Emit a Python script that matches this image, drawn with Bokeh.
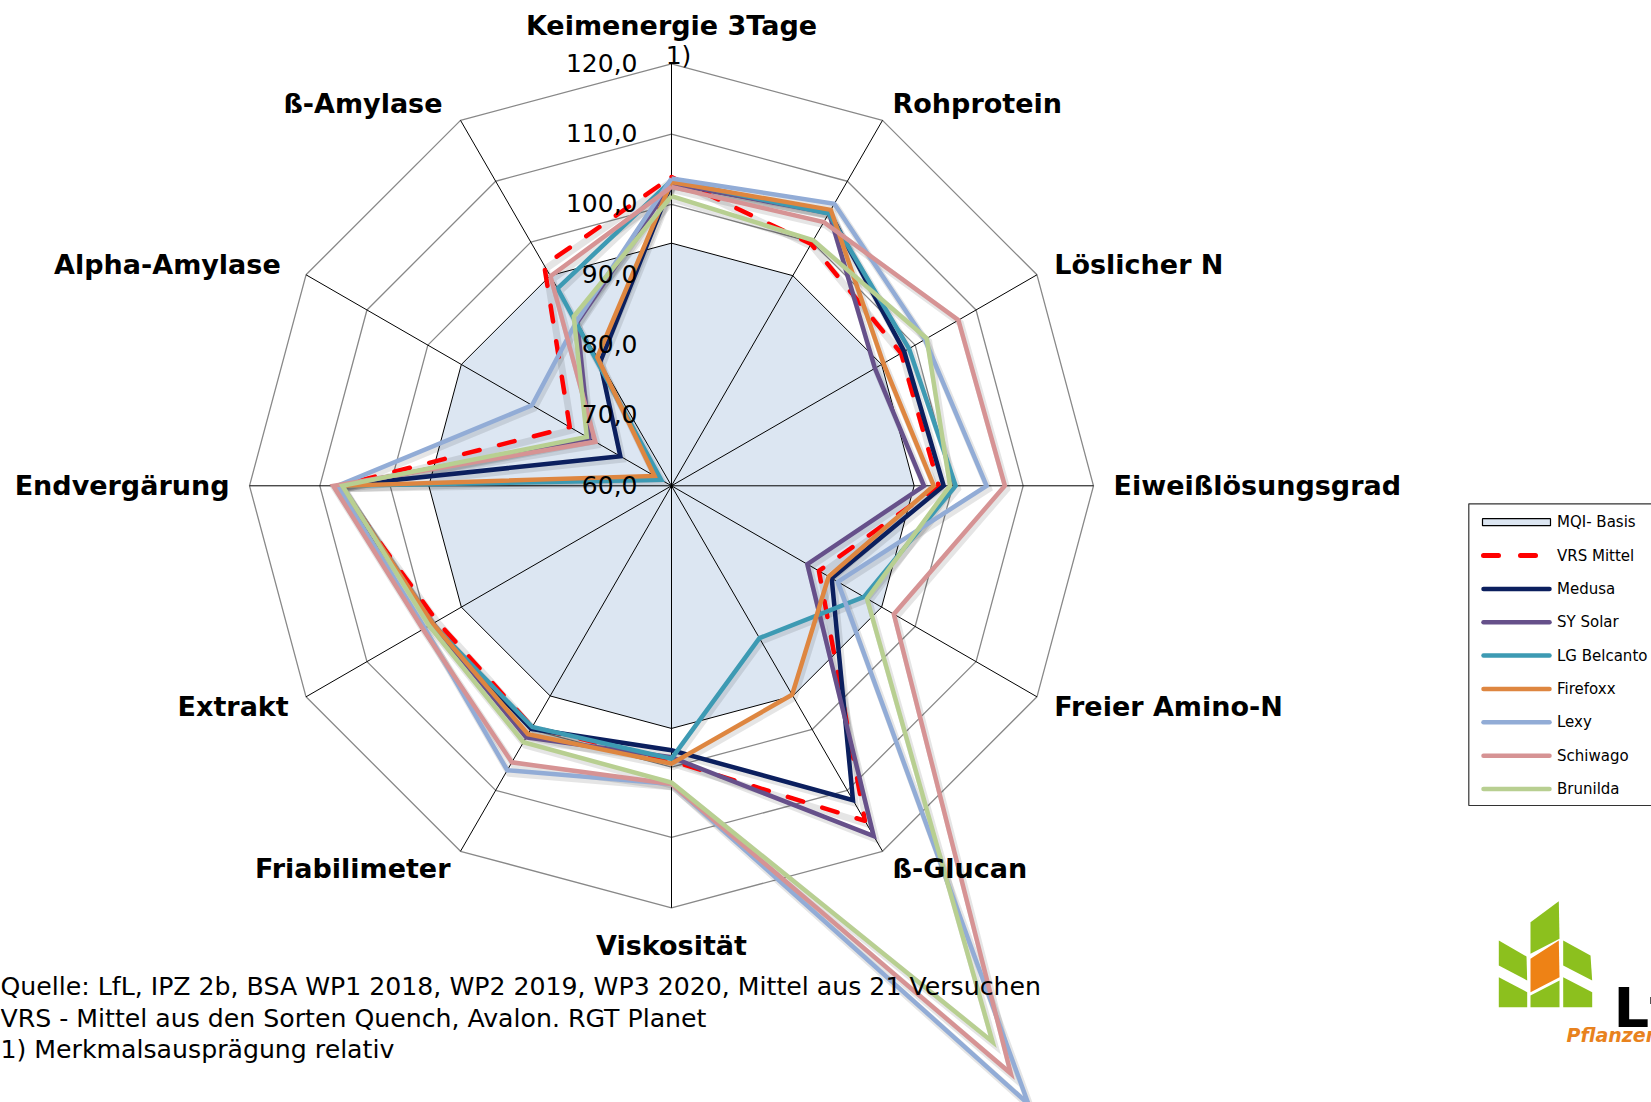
import numpy as np
from bokeh.plotting import figure
from bokeh.models import Range1d
from bokeh.core.properties import value
from bokeh.embed import file_html
from bokeh.resources import INLINE

# ---------------- data ----------------
categories = ["Keimenergie 3Tage", "Rohprotein", "Löslicher N", "Eiweißlösungsgrad",
              "Freier Amino-N", "ß-Glucan", "Viskosität", "Friabilimeter",
              "Extrakt", "Endvergärung", "Alpha-Amylase", "ß-Amylase"]
footnote_mark = "1)"

mqi_basis   = [94.5, 94.5, 94.5, 94.5, 94.5, 94.5, 94.5, 94.5, 94.5, 94.5, 94.5, 94.5]
vrs_mittel  = [103.9, 99.7, 97.7, 98.0, 84.2, 115.0, 99.1, 99.6, 98.5, 107.3, 76.7, 96.2]
medusa      = [103.0, 104.9, 98.2, 98.7, 86.3, 111.6, 97.6, 99.9, 99.3, 107.2, 68.4, 80.3]
sy_solar    = [103.0, 104.8, 93.4, 95.9, 82.3, 117.5, 98.6, 101.3, 99.2, 107.0, 73.5, 86.8]
lg_belcanto = [103.4, 104.7, 99.0, 100.4, 91.6, 85.0, 98.8, 99.6, 99.3, 107.0, 61.7, 92.4]
firefoxx    = [103.2, 105.3, 94.8, 97.3, 85.8, 94.3, 99.5, 100.8, 99.2, 107.0, 62.8, 81.1]
lexy        = [103.7, 106.3, 101.6, 104.8, 87.3, 161.5, 102.4, 106.7, 100.5, 107.5, 82.9, 87.0]
schiwago    = [102.5, 103.3, 107.1, 107.4, 96.5, 156.5, 102.4, 105.4, 100.8, 108.1, 72.5, 94.4]
brunilda    = [101.2, 100.3, 101.9, 99.6, 92.1, 151.3, 102.2, 102.1, 99.8, 106.8, 73.9, 87.8]

series_names = ["VRS Mittel", "Medusa", "SY Solar", "LG Belcanto", "Firefoxx",
                "Lexy", "Schiwago", "Brunilda"]
series_values = [vrs_mittel, medusa, sy_solar, lg_belcanto, firefoxx, lexy, schiwago, brunilda]
series_colors = ["#ff0000", "#0b1f5e", "#66508a", "#3d9ab3", "#de8640",
                 "#92acd6", "#d69394", "#b8cf91"]

tick_values = [60, 70, 80, 90, 100, 110, 120]
tick_labels = ["60,0", "70,0", "80,0", "90,0", "100,0", "110,0", "120,0"]

footnotes = ["Quelle: LfL, IPZ 2b, BSA WP1 2018, WP2 2019, WP3 2020, Mittel aus 21 Versuchen",
             "VRS - Mittel aus den Sorten Quench, Avalon. RGT Planet",
             "1) Merkmalsausprägung relativ"]

# ---------------- geometry ----------------
W, H = 1651, 1102
CX, CY = 671.0, 485.3
VMIN, VMAX = 60.0, 120.0
RMAX = 422.0
N = len(categories)
ang = np.deg2rad(np.arange(N) * 360.0 / N)
ux, uy = np.sin(ang), -np.cos(ang)


def polar(vals, close=True):
    r = (np.asarray(vals, dtype=float) - VMIN) / (VMAX - VMIN) * RMAX
    x = CX + r * ux
    y = CY + r * uy
    if close:
        x = np.append(x, x[0])
        y = np.append(y, y[0])
    return x, y


FONT = value("DejaVu Sans")

p = figure(width=W, height=H, x_range=Range1d(0, W), y_range=Range1d(H, 0),
           output_backend="svg", toolbar_location=None, min_border=0)
p.axis.visible = False
p.grid.visible = False
p.outline_line_color = None
p.background_fill_color = "white"
p.border_fill_color = "white"

# rings
for v in tick_values[1:]:
    rx, ry = polar([v] * N)
    p.line(rx, ry, line_color="#888888", line_width=1.3)

# MQI basis fill
mx, my = polar(mqi_basis)
p.patch(mx, my, fill_color="#dce6f2", line_color="black", line_width=1)

# spokes
ox, oy = polar([VMAX] * N, close=False)
p.segment(x0=[CX] * N, y0=[CY] * N, x1=ox, y1=oy, line_color="black", line_width=1)

# series (shadows first)
for vals in series_values:
    sx, sy = polar(vals)
    p.line(sx + 2, sy + 3, line_color="black", line_alpha=0.10, line_width=7, line_join="miter")

for name, vals, col in zip(series_names, series_values, series_colors):
    sx, sy = polar(vals)
    if name == "VRS Mittel":
        p.line(sx, sy, line_color=col, line_width=4.5, line_dash="16 20",
               line_cap="round", line_join="round")
    else:
        p.line(sx, sy, line_color=col, line_width=4.5, line_join="miter")

# tick labels
tx = [CX - 34] * len(tick_values)
ty = [CY - (v - VMIN) / (VMAX - VMIN) * RMAX - 1 for v in tick_values]
p.text(tx, ty, text=tick_labels, text_align="right", text_baseline="middle",
       text_font=FONT, text_font_size="25px", text_color="black")

# category labels
label_dx = [0, 0, 0, 0, 0, 0, 0, 0, 0, 0, -8, -8]
lx, ly, la = [], [], []
for k in range(N):
    rl = 460.0 if abs(ux[k]) < 0.1 else 442.0
    lx.append(CX + rl * ux[k] + label_dx[k])
    ly.append(CY + rl * uy[k])
    la.append("left" if ux[k] > 0.1 else ("right" if ux[k] < -0.1 else "center"))
for k in range(N):
    p.text([lx[k]], [ly[k]], text=[categories[k]], text_align=la[k], text_baseline="middle",
           text_font=FONT, text_font_style="bold", text_font_size="27px", text_color="black")
p.text([CX + 7], [ly[0] + 30], text=[footnote_mark], text_align="center", text_baseline="middle",
       text_font=FONT, text_font_size="25px", text_color="black")

# footnotes
p.text([0] * 3, [986, 1017.5, 1049], text=footnotes, text_align="left", text_baseline="alphabetic",
       text_font=FONT, text_font_size="25.2px", text_color="black")

# legend
p.quad(left=[1468.3], right=[W + 20], top=[503.3], bottom=[805], fill_color="white",
       line_color="#333333", line_width=1.2)
leg_y0, leg_dy = 521.7, 33.35
p.quad(left=[1482], right=[1550], top=[leg_y0 - 3.5], bottom=[leg_y0 + 3.5],
       fill_color="#dce6f2", line_color="black", line_width=1.2)
leg_names = ["MQI- Basis"] + series_names
for i, name in enumerate(leg_names):
    yy = leg_y0 + i * leg_dy
    if i > 0:
        col = series_colors[i - 1]
        if name == "VRS Mittel":
            p.line([1483, 1550], [yy, yy], line_color=col, line_width=5, line_dash="15 22",
                   line_cap="round")
        else:
            p.line([1483, 1549], [yy, yy], line_color=col, line_width=4.5, line_cap="round")
    p.text([1556.5], [yy], text=[name], text_align="left", text_baseline="middle",
           text_font=FONT, text_font_size="15px", text_color="black")

# logo (decoration)
leaves_green = [
    [(1498.3, 940), (1526, 956), (1526.7, 980), (1498.3, 965)],
    [(1498.3, 976.7), (1526.7, 991.7), (1526.7, 1006.7), (1498.3, 1006.7)],
    [(1530, 921.7), (1558.3, 900.7), (1559, 938.3), (1530, 953.3)],
    [(1530, 995), (1559, 980), (1559, 1006.7), (1530, 1006.7)],
    [(1562.7, 940), (1590, 955), (1591.7, 980), (1562.7, 965)],
    [(1562.7, 976.7), (1591.7, 991.7), (1591.7, 1006.7), (1562.7, 1006.7)],
]
leaf_orange = [(1530, 958.3), (1558.3, 940), (1559, 976.7), (1530, 991.7)]
p.patches([[q[0] for q in lf] for lf in leaves_green],
          [[q[1] for q in lf] for lf in leaves_green],
          fill_color="#8cc01e", line_color=None)
p.patch([q[0] for q in leaf_orange], [q[1] for q in leaf_orange],
        fill_color="#ee8215", line_color=None)
p.text([1613], [1006.7], text=["LfL"], text_align="left", text_baseline="alphabetic",
       text_font=FONT, text_font_style="bold", text_font_size="56px", text_color="black")
p.text([1566], [1034], text=["Pflanzenbau"], text_align="left", text_baseline="alphabetic",
       text_font=FONT, text_font_style="bold italic", text_font_size="19px", text_color="#e8821e")

open("out.html", "w").write(file_html(p, INLINE))
